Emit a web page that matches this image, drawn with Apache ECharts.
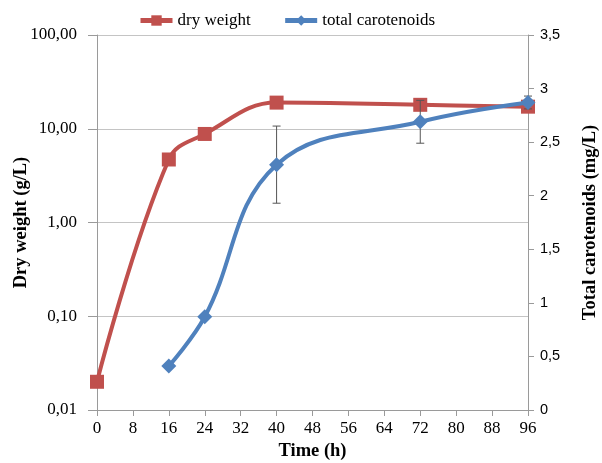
<!DOCTYPE html>
<html><head><meta charset="utf-8">
<script src="https://cdn.jsdelivr.net/npm/echarts@6/dist/echarts.min.js"></script>
<style>html,body{margin:0;padding:0;background:#fff}#c{width:602px;height:463px}</style>
</head><body><div id="c"></div>
<script>
const timeH = [0, 16, 24, 40, 72, 96];
const dryWeight = [0.02, 4.7, 8.8, 19, 18, 17.2];
const caroTime = [16, 24, 40, 72, 96];
const carotenoids = [0.41, 0.87, 2.29, 2.69, 2.87];
const caroErr = [0, 0, 0.36, 0.2, 0.06];
const xTicks = [0, 8, 16, 24, 32, 40, 48, 56, 64, 72, 80, 88, 96];

const font = 'Liberation Serif';
const chart = echarts.init(document.getElementById('c'));
chart.setOption({
  animation: false,
  textStyle: { fontFamily: font },
  legend: {
    top: 12, left: 138, padding: 0, itemGap: 32, itemWidth: 32, itemHeight: 13,
    textStyle: { fontFamily: font, fontSize: 17, color: '#000' },
    lineStyle: { width: 5 },
    data: ['dry weight', 'total carotenoids']
  },
  grid: { left: 97, right: 74, top: 35, bottom: 53, outerBoundsMode: 'none', containLabel: false },
  xAxis: {
    type: 'value', min: xTicks[0], max: xTicks[xTicks.length - 1], interval: 8,
    name: 'Time (h)', nameLocation: 'middle', nameGap: 32, nameMoveOverlap: false,
    nameTextStyle: { fontFamily: font, fontSize: 18.5, fontWeight: 'bold', color: '#000' },
    axisLine: { lineStyle: { color: '#9a9a9a', width: 1 } },
    axisTick: { show: true, length: 6, lineStyle: { color: '#9a9a9a' } },
    axisLabel: { fontFamily: font, fontSize: 17, color: '#000', margin: 10 },
    splitLine: { show: false }
  },
  yAxis: [{
    type: 'log', logBase: 10, min: 0.01, max: 100,
    name: 'Dry weight (g/L)', nameLocation: 'middle', nameGap: 66, nameRotate: 90, nameMoveOverlap: false,
    nameTextStyle: { fontFamily: font, fontSize: 18.5, fontWeight: 'bold', color: '#000' },
    axisLine: { show: true, lineStyle: { color: '#9a9a9a' } },
    axisTick: { show: true, length: 9, lineStyle: { color: '#9a9a9a' } },
    axisLabel: { fontFamily: font, fontSize: 17, color: '#000', margin: 20,
      formatter: v => Number(v).toFixed(2).replace('.', ',') },
    splitLine: { show: true, lineStyle: { color: '#c4c4c4', width: 1 } },
    minorTick: { show: false }
  }, {
    type: 'value', min: 0, max: 3.5, interval: 0.5, position: 'right',
    name: 'Total carotenoids (mg/L)', nameLocation: 'middle', nameGap: 53, nameRotate: 90, nameMoveOverlap: false,
    nameTextStyle: { fontFamily: font, fontSize: 18.5, fontWeight: 'bold', color: '#000' },
    axisLine: { show: true, lineStyle: { color: '#9a9a9a' } },
    axisTick: { show: true, length: 6, lineStyle: { color: '#9a9a9a' } },
    axisLabel: { fontFamily: 'Liberation Sans', fontSize: 14.5, color: '#000', margin: 12,
      formatter: v => String(+v.toFixed(1)).replace('.', ',') },
    splitLine: { show: false }
  }],
  series: [{
    name: 'dry weight', type: 'line', yAxisIndex: 0, smooth: 0.4,
    data: timeH.map((t, i) => [t, dryWeight[i]]),
    symbol: 'rect', symbolSize: 14,
    lineStyle: { color: '#C0504D', width: 4 },
    itemStyle: { color: '#C0504D' }, z: 2
  }, {
    name: 'total carotenoids', type: 'line', yAxisIndex: 1, smooth: 0.4,
    data: caroTime.map((t, i) => [t, carotenoids[i]]),
    symbol: 'diamond', symbolSize: 15,
    lineStyle: { color: '#4F81BD', width: 4 },
    itemStyle: { color: '#4F81BD' }, z: 4
  }, {
    type: 'custom', yAxisIndex: 1, z: 3, silent: true,
    data: caroTime.map((t, i) => [t, carotenoids[i] - caroErr[i], carotenoids[i] + caroErr[i]]).filter((d, i) => caroErr[i] > 0),
    renderItem: function (params, api) {
      const lo = api.coord([api.value(0), api.value(1)]);
      const hi = api.coord([api.value(0), api.value(2)]);
      const w = 4;
      const st = { stroke: '#555', lineWidth: 1 };
      return { type: 'group', children: [
        { type: 'line', shape: { x1: lo[0], y1: lo[1], x2: hi[0], y2: hi[1] }, style: st },
        { type: 'line', shape: { x1: lo[0] - w, y1: lo[1], x2: lo[0] + w, y2: lo[1] }, style: st },
        { type: 'line', shape: { x1: hi[0] - w, y1: hi[1], x2: hi[0] + w, y2: hi[1] }, style: st }
      ]};
    }
  }]
});
</script></body></html>
